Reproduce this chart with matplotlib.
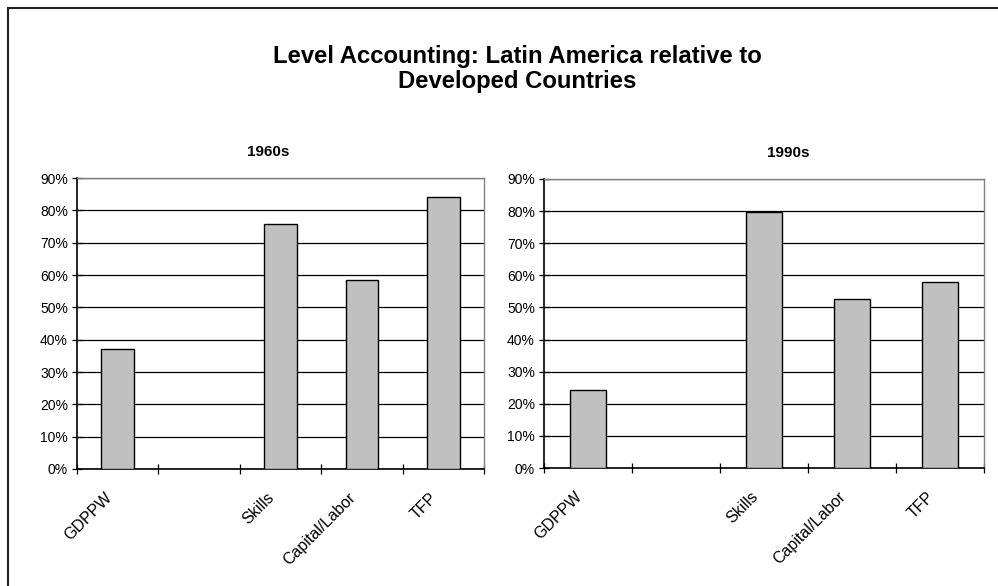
import matplotlib
matplotlib.use("Agg")
import matplotlib.pyplot as plt
import matplotlib.transforms as mtransforms
from matplotlib.patches import Rectangle
from matplotlib.ticker import FuncFormatter, FixedLocator

plt.rcParams['font.family'] = ['Liberation Sans', 'DejaVu Sans']

# category slots (second slot is left empty on purpose)
categories = ['GDPPW', '', 'Skills', 'Capital/Labor', 'TFP']
share_1960s = [37.1, None, 75.8, 58.4, 84.0]
share_1990s = [24.3, None, 79.7, 52.6, 57.8]
y_ticks = [0, 10, 20, 30, 40, 50, 60, 70, 80, 90]

W, H = 998, 586
fig = plt.figure(figsize=(W / 100, H / 100), dpi=100)


def px_box(x0, y0, x1, y1):
    # pixel box (top-left origin) -> figure fraction rect
    return [x0 / W, 1 - y1 / H, (x1 - x0) / W, (y1 - y0) / H]


def draw_panel(ax, values):
    xs = [i for i, v in enumerate(values) if v is not None]
    hs = [v for v in values if v is not None]
    ax.bar(xs, hs, width=0.4, color='#C0C0C0', edgecolor='black',
           linewidth=1.0, zorder=3)
    ax.set_xlim(-0.5, len(categories) - 0.5)
    ax.set_ylim(0, 90)
    ax.set_yticks(y_ticks)
    ax.yaxis.set_major_formatter(FuncFormatter(lambda v, p: f'{v:.0f}%'))
    ax.yaxis.grid(True, color='black', linewidth=0.9, zorder=1)
    ax.set_axisbelow(True)

    # boundary ticks on the category axis, labels centred on the slots
    ax.xaxis.set_major_locator(FixedLocator([i - 0.5 for i in range(len(categories) + 1)]))
    ax.xaxis.set_major_formatter(FuncFormatter(lambda v, p: ''))
    ax.xaxis.set_minor_locator(FixedLocator(range(len(categories))))
    ax.set_xticklabels(categories, minor=True)
    ax.tick_params(axis='x', which='minor', length=0, pad=19, labelsize=11.5)
    ax.tick_params(axis='x', which='major', direction='inout', length=7, width=0.9)
    ax.tick_params(axis='y', direction='inout', length=7, width=0.9,
                   labelsize=10, pad=3)
    shift = mtransforms.ScaledTranslation(-6 / 72, 0, fig.dpi_scale_trans)
    for lab in ax.get_xticklabels(minor=True):
        lab.set_rotation(45)
        lab.set_rotation_mode('anchor')
        lab.set_ha('right')
        lab.set_va('center')
        lab.set_transform(lab.get_transform() + shift)

    for side in ('top', 'right'):
        ax.spines[side].set_color('#808080')
        ax.spines[side].set_linewidth(1.0)
    for side in ('left', 'bottom'):
        ax.spines[side].set_color('black')
        ax.spines[side].set_linewidth(1.2)


ax1 = fig.add_axes(px_box(77, 178, 484, 469))
ax2 = fig.add_axes(px_box(544, 179, 984, 468))
draw_panel(ax1, share_1960s)
draw_panel(ax2, share_1990s)

fig.text(268 / W, 1 - 152 / H, '1960s', ha='center', va='center',
         fontsize=11, fontweight='bold')
fig.text(788 / W, 1 - 153 / H, '1990s', ha='center', va='center',
         fontsize=11, fontweight='bold')
fig.text(517 / W, 1 - 69 / H,
         'Level Accounting: Latin America relative to\nDeveloped Countries',
         ha='center', va='center', fontsize=17.2, fontweight='bold',
         linespacing=1.15)

# chart border running off the right and bottom edges
fig.patches.append(Rectangle((8 / W, -0.1), 1.2, 1 - 8 / H + 0.1,
                             transform=fig.transFigure, fill=False,
                             edgecolor='#222222', linewidth=1.5))

fig.savefig('out.png', dpi=100, facecolor='white')
